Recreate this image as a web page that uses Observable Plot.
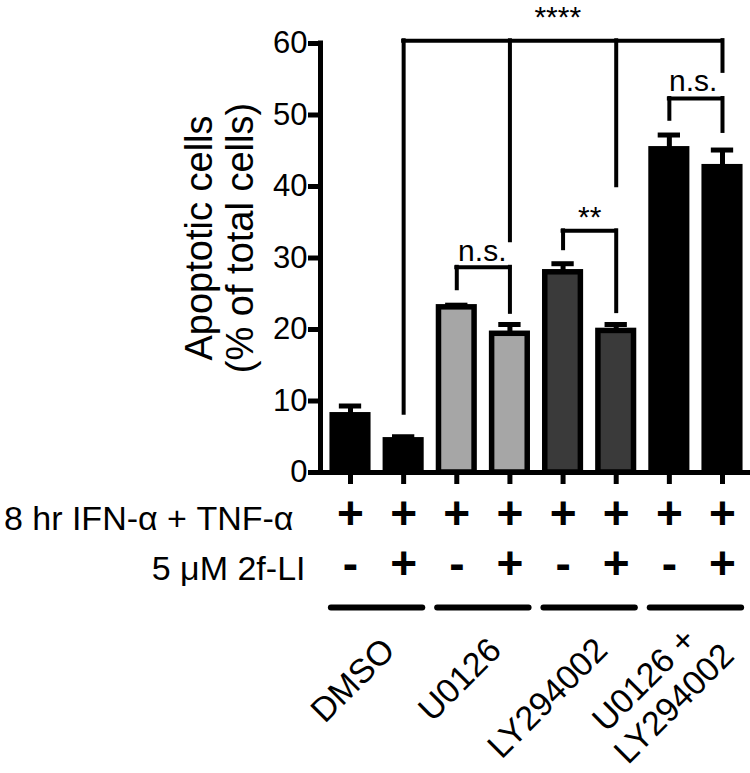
<!DOCTYPE html>
<html><head><meta charset="utf-8">
<script src="https://cdn.jsdelivr.net/npm/d3@7"></script>
<script src="https://cdn.jsdelivr.net/npm/@observablehq/plot@0.6"></script>
<style>body{margin:0;background:#fff}</style>
</head><body><div id="chart"></div>
<script>
// ---- data ----
const groups = ["DMSO", "U0126", "LY294002", "U0126 +\nLY294002"];
const barGroup = [0, 0, 1, 1, 2, 2, 3, 3];
const ifnTnf = ["+", "+", "+", "+", "+", "+", "+", "+"];
const twoFLI = ["-", "+", "-", "+", "-", "+", "-", "+"];
const means = [8.0, 4.5, 23.1, 19.4, 28.0, 19.8, 45.2, 42.7];
const sem = [1.3, 0.5, 0.3, 1.3, 1.2, 0.9, 2.0, 2.4];
const groupFills = ["#000000", "#a6a6a6", "#3a3a3a", "#000000"];
const yTicks = [0, 10, 20, 30, 40, 50, 60];
const rowLabels = ["8 hr IFN-\u03b1 + TNF-\u03b1", "5 \u03bcM 2f-LI"];
const yLabelLines = ["Apoptotic cells", "(% of total cells)"];
// significance brackets (bar index, value units)
const sigTops = [
  {x1: 2, x2: 8, y: 60.4},
  {x1: 7, x2: 8, y: 52.3},
  {x1: 3, x2: 4, y: 28.7},
  {x1: 5, x2: 6, y: 33.8}
];
const sigLegs = [
  {x: 2, y1: 8.3, y2: 60.4}, {x: 4, y1: 32.4, y2: 60.4}, {x: 6, y1: 40.1, y2: 60.4}, {x: 8, y1: 56.1, y2: 60.4},
  {x: 7, y1: 49.4, y2: 52.3}, {x: 8, y1: 47.7, y2: 52.3},
  {x: 3, y1: 25.7, y2: 28.7}, {x: 4, y1: 22.4, y2: 28.7},
  {x: 5, y1: 31.3, y2: 33.8}, {x: 6, y1: 22.5, y2: 33.8}
];
const sigLabels = [
  {x: 4.9, y: 62.3, text: "****"},
  {x: 7.45, y: 53.4, text: "n.s."},
  {x: 3.48, y: 29.65, text: "n.s."},
  {x: 5.5, y: 34.4, text: "**"}
];

// ---- derived tables ----
const bars = means.map((m, k) => ({
  i: k + 1, mean: m, upper: m + sem[k], fill: groupFills[barGroup[k]], ifn: ifnTnf[k], fli: twoFLI[k]
}));
const groupRows = groups.map((g, k) => ({label: g, c: 2 * k + 1.5}));
const labelLines = groups.flatMap((g, k) => g.split("\n").map((t, j, arr) => ({text: t, c: 2 * k + 1.5, j, n: arr.length})));
const xDomain = [0.4355, 8.527];
const font = "'Liberation Sans', Arial, Helvetica, sans-serif";
const labelOpts = {x: "c", text: "text", frameAnchor: "bottom", rotate: -45, fontSize: 34};

const chart = Plot.plot({
  width: 750, height: 773,
  marginLeft: 320, marginRight: 0, marginTop: 43, marginBottom: 301,
  style: {fontFamily: font, background: "white", overflow: "visible", color: "black"},
  x: {domain: xDomain},
  y: {domain: [0, 60]},
  color: {type: "identity"},
  marks: [
    Plot.axisY({ticks: yTicks, tickSize: 12, tickPadding: 1, strokeWidth: 5, fontSize: 31, label: null}),
    Plot.axisX({ticks: bars.map(d => d.i), tickSize: 12, strokeWidth: 5, tickFormat: () => "", label: null}),
    Plot.ruleX([xDomain[0]], {y1: 0, y2: 60, strokeWidth: 5, strokeLinecap: "square"}),
    Plot.ruleY([0], {strokeWidth: 5, strokeLinecap: "square"}),
    // error bars
    Plot.ruleX(bars, {x: "i", y1: "mean", y2: "upper", strokeWidth: 5}),
    Plot.ruleY(bars, {y: "upper", x1: d => d.i - 0.21, x2: d => d.i + 0.21, strokeWidth: 5}),
    // bars
    Plot.rectY(bars, {x1: d => d.i - 0.335, x2: d => d.i + 0.335, y1: 0, y2: "mean", fill: "fill", stroke: "black", strokeWidth: 5.5}),
    // brackets
    Plot.ruleY(sigTops, {y: "y", x1: "x1", x2: "x2", strokeWidth: 4, strokeLinecap: "square"}),
    Plot.ruleX(sigLegs, {x: "x", y1: "y1", y2: "y2", strokeWidth: 4, strokeLinecap: "square"}),
    Plot.text(sigLabels, {x: "x", y: "y", text: "text", lineAnchor: "bottom", fontSize: 30}),
    // y label
    Plot.text([yLabelLines[0]], {text: d => d, frameAnchor: "left", dx: -109, dy: -20, rotate: -90, textAnchor: "middle", lineAnchor: "bottom", fontSize: 38}),
    Plot.text([yLabelLines[1]], {text: d => d, frameAnchor: "left", dx: -68, dy: -20, rotate: -90, textAnchor: "middle", lineAnchor: "bottom", fontSize: 38}),
    // treatment table
    Plot.text([rowLabels[0]], {text: d => d, frameAnchor: "bottom-left", dx: -27, dy: 47, textAnchor: "end", lineAnchor: "middle", fontSize: 34}),
    Plot.text([rowLabels[1]], {text: d => d, frameAnchor: "bottom-left", dx: -15, dy: 97, textAnchor: "end", lineAnchor: "middle", fontSize: 34}),
    Plot.text(bars, {x: "i", text: "ifn", frameAnchor: "bottom", dy: 42, lineAnchor: "middle", fontSize: 46, fontWeight: "bold"}),
    Plot.text(bars, {x: "i", text: "fli", frameAnchor: "bottom", dy: 92, lineAnchor: "middle", fontSize: 46, fontWeight: "bold"}),
    Plot.ruleY(groupRows, {y: 0, x1: d => d.c - 0.86, x2: d => d.c + 0.86, dy: 135, strokeWidth: 6, strokeLinecap: "round"}),
    // group labels: single-line labels end-anchored; two-line label centred line by line
    Plot.text(labelLines.filter(d => d.n === 1), {...labelOpts, dx: 12, dy: 172, textAnchor: "end", lineAnchor: "middle"}),
    Plot.text(labelLines.filter(d => d.n === 2 && d.j === 0), {...labelOpts, dx: -44, dy: 215, textAnchor: "middle", lineAnchor: "bottom"}),
    Plot.text(labelLines.filter(d => d.n === 2 && d.j === 1), {...labelOpts, dx: -14, dy: 239, textAnchor: "middle", lineAnchor: "bottom"})
  ]
});
document.getElementById("chart").appendChild(chart);
</script>
</body></html>
